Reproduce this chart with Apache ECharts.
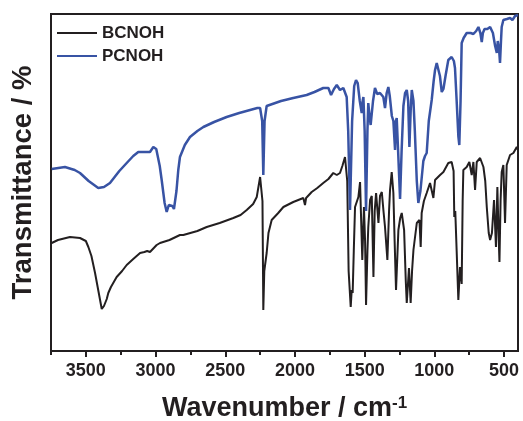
<!DOCTYPE html>
<html>
<head>
<meta charset="utf-8">
<script src="https://cdn.jsdelivr.net/npm/echarts@6/dist/echarts.min.js"></script>
<style>
  html, body { margin: 0; padding: 0; background: #fff; }
  #chart { width: 523px; height: 421px; }
</style>
</head>
<body>
<div id="chart"></div>
<script>
// FTIR spectra, wavenumber (cm-1) vs transmittance (arbitrary units, offset)
const majorTicks = [3500, 3000, 2500, 2000, 1500, 1000, 500];
const minorTicks = [3750, 3250, 2750, 2250, 1750, 1250, 750];

const bcnohWave = [3745, 3700, 3614, 3542, 3500, 3482, 3460, 3434, 3410, 3386, 3370, 3350, 3339, 3320, 3279, 3240, 3207, 3160, 3111, 3080, 3060, 3040, 3028, 2992, 2968, 2900, 2825, 2801, 2700, 2633, 2540, 2442, 2390, 2346, 2300, 2274, 2250, 2240, 2233, 2227, 2220, 2203, 2190, 2167, 2120, 2083, 2012, 1940, 1928, 1920, 1880, 1840, 1797, 1760, 1725, 1700, 1677, 1660, 1641, 1634, 1625, 1615, 1600, 1593, 1586, 1578, 1569, 1545, 1533, 1525, 1517, 1505, 1497, 1490, 1480, 1474, 1461, 1449, 1437, 1428, 1418, 1401, 1390, 1377, 1365, 1354, 1337, 1325, 1318, 1306, 1294, 1285, 1275, 1258, 1245, 1234, 1217, 1205, 1198, 1182, 1170, 1160, 1150, 1126, 1107, 1098, 1091, 1075, 1055, 1031, 1019, 1007, 995, 959, 935, 900, 876, 862, 857, 850, 840, 828, 816, 804, 797, 792, 768, 749, 732, 720, 708, 696, 672, 648, 635, 624, 610, 600, 587, 572, 558, 548, 540, 533, 525, 517, 505, 493, 481, 457, 433, 409, 400];
const bcnohVal = [108, 111, 114, 113, 110, 104, 95, 78, 60, 42, 45, 52, 58, 64, 74, 80, 86, 92, 98, 99, 100, 99, 99, 106, 108, 111, 116, 116, 120, 124, 128, 133, 136, 141, 147, 154, 174, 176, 150, 41, 80, 98, 118, 131, 138, 144, 149, 153, 146, 153, 159, 163, 168, 172, 178, 176, 178, 185, 194, 196, 170, 80, 44, 61, 58, 100, 144, 154, 169, 130, 91, 144, 110, 46, 100, 124, 151, 155, 74, 140, 158, 128, 155, 159, 140, 124, 91, 140, 161, 179, 158, 110, 61, 121, 133, 138, 121, 70, 48, 83, 48, 80, 101, 128, 131, 104, 138, 150, 158, 168, 168, 153, 171, 176, 179, 188, 189, 180, 134, 140, 100, 51, 84, 67, 150, 181, 184, 189, 176, 189, 161, 189, 193, 184, 170, 144, 118, 111, 118, 151, 104, 164, 120, 89, 150, 179, 186, 128, 186, 196, 198, 204, 201];

const pcnohWave = [3745, 3650, 3580, 3542, 3480, 3411, 3370, 3327, 3260, 3207, 3160, 3124, 3040, 3016, 2995, 2987, 2970, 2956, 2935, 2920, 2905, 2891, 2880, 2868, 2850, 2837, 2825, 2790, 2753, 2700, 2657, 2580, 2490, 2400, 2322, 2270, 2250, 2235, 2227, 2218, 2203, 2100, 2012, 1916, 1860, 1797, 1760, 1741, 1720, 1700, 1677, 1653, 1629, 1618, 1605, 1590, 1575, 1562, 1550, 1535, 1521, 1514, 1509, 1500, 1490, 1480, 1474, 1465, 1457, 1449, 1440, 1426, 1410, 1390, 1366, 1354, 1342, 1330, 1320, 1305, 1294, 1282, 1276, 1270, 1260, 1246, 1235, 1222, 1210, 1198, 1188, 1179, 1170, 1162, 1150, 1140, 1126, 1115, 1100, 1079, 1067, 1055, 1040, 1019, 1005, 995, 983, 971, 960, 947, 935, 920, 900, 876, 860, 852, 840, 828, 821, 812, 804, 790, 768, 740, 720, 700, 684, 670, 660, 652, 640, 620, 600, 580, 564, 552, 545, 535, 529, 522, 517, 505, 480, 457, 440, 421, 400];
const pcnohVal = [182, 184, 181, 178, 170, 163, 164, 168, 180, 188, 195, 199, 199, 204, 202, 201, 185, 171, 148, 139, 146, 148, 145, 142, 160, 181, 194, 206, 214, 220, 224, 229, 234, 238, 241, 243, 243, 230, 176, 230, 245, 250, 253, 256, 259, 263, 263, 256, 262, 266, 261, 263, 254, 220, 141, 230, 265, 271, 268, 250, 238, 250, 254, 220, 140, 220, 248, 235, 226, 228, 250, 263, 257, 258, 254, 243, 258, 264, 255, 235, 230, 201, 230, 233, 200, 152, 200, 245, 258, 261, 250, 204, 240, 261, 250, 220, 170, 148, 160, 190, 195, 198, 230, 251, 270, 281, 288, 289, 275, 259, 262, 275, 291, 294, 290, 283, 250, 215, 206, 250, 308, 313, 318, 318, 317, 320, 324, 318, 309, 318, 322, 322, 324, 318, 305, 298, 310, 300, 288, 310, 324, 331, 332, 333, 331, 335, 336];

const zip = (xs, ys) => xs.map((x, i) => [x, ys[i]]);

const chart = echarts.init(document.getElementById("chart"));
const ink = "#231f20";
const blue = "#3853a4";

const baseX = {
  type: "value",
  min: 400,
  max: 3750,
  inverse: true,
  position: "bottom",
  splitLine: { show: false }
};

chart.setOption({
  animation: false,
  backgroundColor: "#fff",
  textStyle: { fontFamily: "Liberation Sans, Arial, sans-serif" },
  grid: {
    left: 51,
    right: 5,
    top: 14,
    bottom: 70,
    show: true,
    borderColor: ink,
    borderWidth: 2,
    containLabel: false,
    outerBoundsMode: "none"
  },
  legend: {
    orient: "vertical",
    left: 57,
    top: 24,
    padding: 0,
    itemGap: 5,
    icon: "rect",
    itemWidth: 40,
    itemHeight: 2,
    textStyle: { fontSize: 17, fontWeight: "bold", color: ink, lineHeight: 18 },
    data: ["BCNOH", "PCNOH"]
  },
  xAxis: [
    Object.assign({}, baseX, {
      axisLine: { show: true, lineStyle: { color: ink, width: 2 } },
      axisTick: { show: true, customValues: majorTicks, length: 6, lineStyle: { color: ink, width: 2 } },
      axisLabel: {
        customValues: majorTicks,
        margin: 11,
        fontSize: 18,
        fontWeight: "bold",
        color: ink,
        formatter: (v) => String(v)
      },
      name: "{b|Wavenumber / cm}{s|-1}",
      nameLocation: "middle",
      nameGap: 44,
      nameTextStyle: {
        rich: {
          b: { fontSize: 27, fontWeight: "bold", color: ink },
          s: { fontSize: 17, fontWeight: "bold", color: ink, verticalAlign: "top" }
        }
      }
    }),
    Object.assign({}, baseX, {
      axisLine: { show: false },
      axisTick: { show: true, customValues: minorTicks, length: 4, lineStyle: { color: ink, width: 2 } },
      axisLabel: { show: false }
    })
  ],
  yAxis: {
    type: "value",
    min: 0,
    max: 337,
    axisLine: { show: false },
    axisTick: { show: false },
    axisLabel: { show: false },
    splitLine: { show: false },
    name: "Transmittance / %",
    nameLocation: "middle",
    nameRotate: 90,
    nameGap: 14,
    nameTextStyle: { fontSize: 27.5, fontWeight: "bold", color: ink }
  },
  series: [
    {
      name: "BCNOH",
      type: "line",
      data: zip(bcnohWave, bcnohVal),
      showSymbol: false,
      color: ink,
      lineStyle: { color: ink, width: 2 }
    },
    {
      name: "PCNOH",
      type: "line",
      data: zip(pcnohWave, pcnohVal),
      showSymbol: false,
      color: blue,
      lineStyle: { color: blue, width: 2.5 }
    }
  ]
});
</script>
</body>
</html>
